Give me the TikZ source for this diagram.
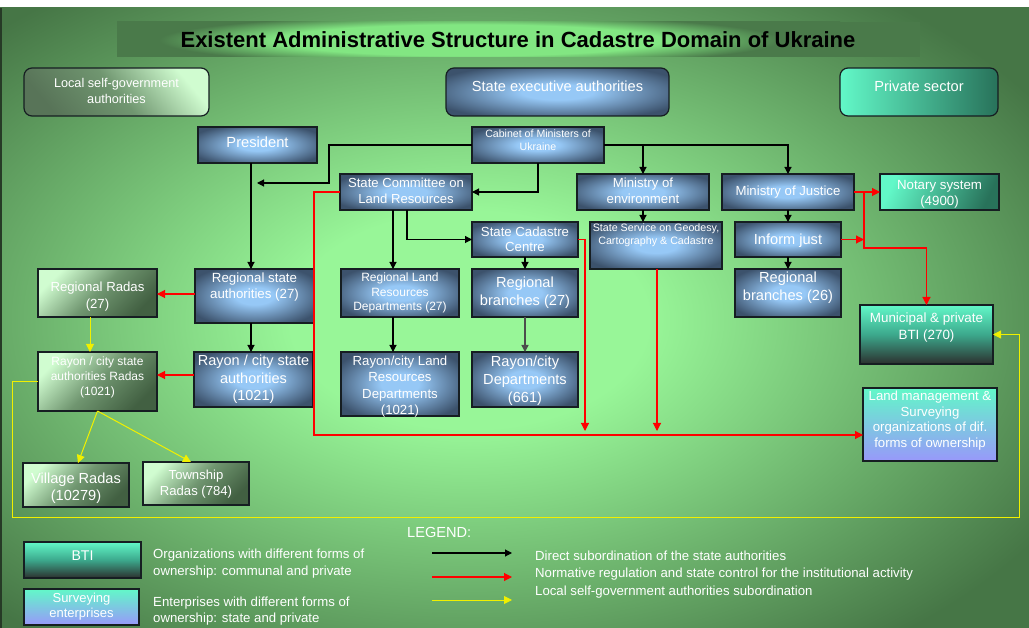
\documentclass[tikz,border=0pt]{standalone}
\usepackage{fontspec}
\setmainfont{Liberation Sans}
\usetikzlibrary{arrows.meta}

% palette
\definecolor{bgout}{RGB}{70,118,70}
\definecolor{bgin}{RGB}{152,246,152}
\definecolor{frameline}{RGB}{38,58,38}
\definecolor{glowin}{RGB}{150,200,246}
\definecolor{glowout}{RGB}{60,82,108}
\definecolor{titlebase}{RGB}{74,122,74}
\definecolor{titlelight}{RGB}{130,230,130}
\definecolor{radalight}{RGB}{208,252,208}
\definecolor{radadark}{RGB}{66,96,66}
\definecolor{radamid}{RGB}{112,150,112}
\definecolor{headgrey}{RGB}{88,116,88}
\definecolor{teallight}{RGB}{98,248,200}
\definecolor{tealdark}{RGB}{40,114,90}
\definecolor{btimid}{RGB}{60,168,140}
\definecolor{btidark}{RGB}{44,48,46}
\definecolor{lavender}{RGB}{152,152,250}
\definecolor{edge}{RGB}{22,30,34}
\definecolor{redline}{RGB}{255,0,0}
\definecolor{yelline}{RGB}{240,240,0}

% radial shadings: 25bp reaches the edge of the shaded path
\pgfdeclareradialshading{bgglow}{\pgfpoint{0bp}{0bp}}{color(0bp)=(bgin); color(8bp)=(bgin); color(30bp)=(bgout); color(50bp)=(bgout)}
\pgfdeclareradialshading{boxglow}{\pgfpoint{0bp}{0bp}}{color(0bp)=(glowin); color(8bp)=(glowin); color(30bp)=(glowout); color(50bp)=(glowout)}
\pgfdeclareradialshading{titleglow}{\pgfpoint{0bp}{0bp}}{color(0bp)=(titlelight); color(13bp)=(titlelight); color(21bp)=(titlebase); color(50bp)=(titlebase)}

\newcommand\fz[2]{\fontsize{#1pt}{#2pt}\selectfont}
% box from its corner coordinates: style, name, x1, y1, x2, y2
\newcommand\ubx[6]{\node[#1, minimum width={(#5)-(#3)}, minimum height={(#6)-(#4)}] (#2) at ({((#3)+(#5))/2},{((#4)+(#6))/2}) {};}

\tikzset{
  ubox/.style={draw=edge, line width=1.2pt, inner sep=0pt, outer sep=0pt},
  bluebox/.style={ubox, shade, shading=boxglow},
  bluehead/.style={bluebox, rounded corners=8pt},
  radabox/.style={ubox, top color=radalight, bottom color=radadark, middle color=radamid, shading angle=45},
  greenhead/.style={ubox, rounded corners=8pt, top color=radalight, bottom color=headgrey, middle color=radamid, shading angle=-50},
  tealhead/.style={ubox, rounded corners=8pt, left color=teallight, right color=tealdark},
  tealbox/.style={ubox, top color=teallight, bottom color=tealdark, shading angle=65},
  btibox/.style={ubox, top color=teallight, bottom color=btidark, middle color=btimid},
  survbox/.style={ubox, top color=teallight, bottom color=lavender},
  txt/.style={text=white, align=center, inner sep=0pt},
  blk/.style={draw=black, line width=1.1pt, -{Triangle[length=7pt,width=7pt]}},
  blkgrey/.style={draw=black!70, line width=1.5pt, -{Triangle[length=7pt,width=7pt]}},
  rd/.style={draw=redline, line width=1.1pt, -{Triangle[length=8pt,width=8pt]}},
  yl/.style={draw=yelline, line width=1pt, -{Triangle[length=8pt,width=8pt]}},
}

\begin{document}
\begin{tikzpicture}[x=1pt, y=-1pt]
\useasboundingbox (0,0) rectangle (1029,628);

% backdrop
\fill[white] (0,0) rectangle (1029,628);
\begin{scope}
  \clip (0,8) rectangle (1029,628);
  \shade[shading=bgglow] (-90,-20) rectangle (1029,660);
\end{scope}
\draw[frameline, line width=2pt] (1,8) -- (1,628);

% title bar
\begin{scope}
  \clip (117,22) rectangle (920,57);
  \fill[titlebase] (117,22) rectangle (920,57);
  \shade[shading=titleglow] (100,10) rectangle (840,70);
\end{scope}
\node[font=\bfseries\fz{22}{26}, text=black, inner sep=0pt] (title) at (518,40)
  {Existent Administrative Structure in Cadastre Domain of Ukraine};

% column headers
\ubx{greenhead}{lsg}{24}{68}{209}{116}
\node[txt, font=\fz{12.7}{16}] (lsgt) at (116.5,91) {Local self-government\\authorities};
\ubx{bluehead}{sea}{446}{68}{669}{116}
\node[txt, font=\fz{14.6}{17}] (seat) at (557.5,86) {State executive authorities};
\ubx{tealhead}{ps}{840}{68}{998}{116}
\node[txt, font=\fz{14.6}{17}] (pst) at (919,86) {Private sector};

% state authorities
\ubx{bluebox}{pres}{198}{127}{317}{163}
\node[txt, font=\fz{14.7}{17}] (prest) at (257.5,142) {President};
\ubx{bluebox}{cab}{472}{127}{604}{163}
\node[txt, font=\fz{10.6}{13}] (cabt) at (538,140.5) {Cabinet of Ministers of\\Ukraine};
\ubx{bluebox}{scl}{340}{174}{472}{210}
\node[txt, font=\fz{13.1}{16}] (sclt) at (406,191) {State Committee on\\Land Resources};
\ubx{bluebox}{moe}{577}{174}{709}{210}
\node[txt, font=\fz{13.2}{16}] (moet) at (643,191) {Ministry of\\environment};
\ubx{bluebox}{moj}{722}{174}{854}{210}
\node[txt, font=\fz{13.2}{16}] (mojt) at (788,192) {Ministry of Justice};
\ubx{tealbox}{nots}{880}{174}{999}{210}
\node[txt, font=\fz{13.3}{16}] (notst) at (939.5,194) {Notary system\\(4900)};
\ubx{bluebox}{scc}{472}{222}{578}{257}
\node[txt, font=\fz{13.2}{15}] (scct) at (525,239.5) {State Cadastre\\Centre};
\ubx{bluebox}{ssg}{590}{222}{722}{269}
\node[txt, font=\fz{10.7}{13}] (ssgt) at (656,235.5) {State Service on Geodesy,\\Cartography \& Cadastre};
\ubx{bluebox}{ij}{735}{222}{841}{257}
\node[txt, font=\fz{14.6}{17}] (ijt) at (788,241) {Inform just};
\ubx{bluebox}{rb26}{735}{269}{841}{317}
\node[txt, font=\fz{14.6}{18}] (rb26t) at (788,288) {Regional\\branches (26)};
\ubx{bluebox}{rsa}{195}{269}{314}{323}
\node[txt, font=\fz{13.3}{16}] (rsat) at (254.5,287) {Regional state\\authorities (27)};
\ubx{bluebox}{rlrd}{341}{269}{459}{317}
\node[txt, font=\fz{12}{14.5}] (rlrdt) at (400,293) {Regional Land\\Resources\\Departments (27)};
\ubx{bluebox}{rb27}{472}{269}{578}{317}
\node[txt, font=\fz{14.6}{18}] (rb27t) at (525,293) {Regional\\branches (27)};
\ubx{bluebox}{rcsa}{194}{352}{313}{407}
\node[txt, font=\fz{14.5}{17.5}] (rcsat) at (253.5,379.5) {Rayon / city state\\authorities\\(1021)};
\ubx{bluebox}{rclrd}{341}{352}{459}{416}
\node[txt, font=\fz{13.2}{16.3}] (rclrdt) at (400,386.5) {Rayon/city Land\\Resources\\Departments\\(1021)};
\ubx{bluebox}{rcd}{472}{352}{578}{407}
\node[txt, font=\fz{14.6}{18}] (rcdt) at (525,381) {Rayon/city\\Departments\\(661)};

% private sector organisations
\ubx{btibox}{mbti}{860}{305}{993}{364}
\node[txt, font=\fz{13.4}{17}] (mbtit) at (926.5,327.5) {Municipal \& private\\BTI (270)};
\ubx{survbox}{lmso}{863}{388}{997}{461}
\node[txt, font=\fz{13.2}{15.7}] (lmsot) at (930,420.5) {Land management \&\\Surveying\\organizations of dif.\\forms of ownership};

% local self-government
\ubx{radabox}{rr}{38}{269}{157}{317}
\node[txt, font=\fz{13.2}{17}] (rrt) at (97.5,297) {Regional Radas\\(27)};
\ubx{radabox}{rcr}{38}{352}{157}{411}
\node[txt, font=\fz{12}{15}] (rcrt) at (97.5,377) {Rayon / city state\\authorities Radas\\(1021)};
\ubx{radabox}{vr}{23}{463}{129}{507}
\node[txt, font=\fz{14.6}{17}] (vrt) at (76,488.5) {Village Radas\\(10279)};
\ubx{radabox}{tr}{143}{462}{249}{505}
\node[txt, font=\fz{13.1}{16}] (trt) at (196,484) {Township\\Radas (784)};

% direct subordination
\coordinate (pa) at (257,183);
\draw[blk] (cab.west) -- (329,145) |- (pa);
\draw[blk] (cab.south) |- (scl.east);
\draw[blk] (cab.east) -| (moj.north);
\draw[blk] (cab.east -| moe.north) -- (moe.north);
\draw[blk] ([xshift=-6.5pt]pres.south) -- ([xshift=-3.5pt]rsa.north);
\draw[blk] ([xshift=-13pt]scl.south) -- ([xshift=-7pt]rlrd.north);
\draw[blk] ([xshift=1pt]scl.south) |- (scc.west);
\draw[blk] (scc.south) -- (rb27.north);
\draw[blkgrey] (rb27.south) -- (rcd.north);
\draw[blk] ([xshift=-7pt]rlrd.south) -- ([xshift=-7pt]rclrd.north);
\draw[blk] ([xshift=-3.5pt]rsa.south) -- ([xshift=-2.5pt]rcsa.north);
\draw[blk] (moe.south) -- (moe.south |- ssg.north);
\draw[blk] (moj.south) -- (ij.north);
\draw[blk] (ij.south) -- (rb26.north);

% normative regulation and state control
\coordinate (c1) at (585,431);
\coordinate (jn) at (864,248);
\draw[rd] (scl.west) -| (314,435) -- ([yshift=-10.5pt]lmso.west);
\draw[rd] ([yshift=2pt]rsa.west) -- ([yshift=2pt]rsa.west -| rr.east);
\draw[rd] ([yshift=4.5pt]rcsa.west) -- ([yshift=4.5pt]rcsa.west -| rcr.east);
\draw[rd] (scc.east) -| (c1);
\draw[rd] ([xshift=1pt]ssg.south) -- ([xshift=1pt]ssg.south |- c1);
\draw[rd] (moj.east) -- (nots.west);
\draw[rd] (moj.east -| jn) -- (jn) -| (mbti.north);
\draw[rd] (ij.east) -- (ij.east -| jn);

% local self-government subordination
\draw[yl] ([xshift=-7.5pt]rr.south) -- ([xshift=-7.5pt]rcr.north);
\draw[yl] (rcr.south) -- ([xshift=2pt]vr.north);
\draw[yl] (rcr.south) -- ([xshift=-5pt]tr.north);
\draw[yl] (rcr.west) -| (12,517) -| ([xshift=26pt]mbti.east) -- (mbti.east);

% legend
\node[txt, anchor=west, font=\fz{14.6}{17}] (legend) at (407,532) {LEGEND:};
\ubx{btibox}{lbti}{24}{542}{141}{578}
\node[txt, font=\fz{14.1}{17}] (lbtit) at (82.5,556) {BTI};
\ubx{survbox}{lsurv}{24}{589}{139}{625}
\node[txt, font=\fz{13}{15}] (lsurvt) at (81.5,606.5) {Surveying\\enterprises};
\node[txt, anchor=west, align=left, font=\fz{13.2}{17}] (org) at (153,563.5)
  {Organizations with different forms of\\ownership: communal and private};
\node[txt, anchor=west, align=left, font=\fz{13.2}{16}] (ent) at (153,611)
  {Enterprises with different forms of\\ownership: state and private};
\coordinate (la1) at (432,553); \coordinate (lb1) at (512,553);
\coordinate (la2) at (432,577); \coordinate (lb2) at (512,577);
\coordinate (la3) at (432,600); \coordinate (lb3) at (512,600);
\draw[blk] (la1) -- (lb1);
\draw[rd] (la2) -- (lb2);
\draw[yl] (la3) -- (lb3);
\node[txt, anchor=west, font=\fz{13.2}{16}] (l1) at (535,556) {Direct subordination of the state authorities};
\node[txt, anchor=west, font=\fz{13.2}{16}] (l2) at (535,574) {Normative regulation and state control for the institutional activity};
\node[txt, anchor=west, font=\fz{13.2}{16}] (l3) at (535,592) {Local self-government authorities subordination};
\end{tikzpicture}
\end{document}
